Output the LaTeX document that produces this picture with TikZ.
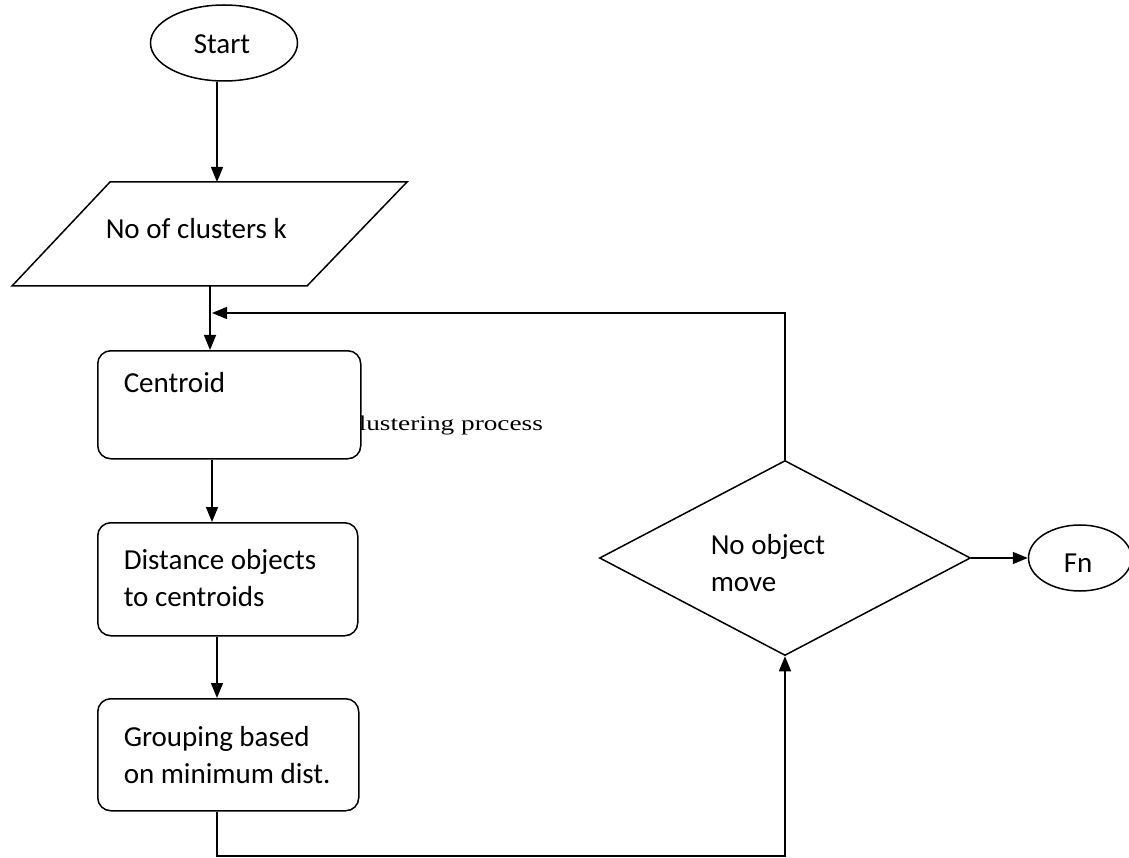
\documentclass[tikz,border=0pt]{standalone}
\usepackage{fontspec}
\setmainfont{Carlito}
\newfontfamily\serifx[FakeStretch=1.3]{Liberation Serif}
\usetikzlibrary{shapes.geometric,arrows.meta}
\begin{document}
\begin{tikzpicture}[x=1pt,y=-1pt,
  line width=1.5pt,
  lbl/.style={anchor=base west,inner sep=0,font=\fontsize{29}{37}\selectfont},
  procbox/.style={draw,fill=white,rounded corners=13pt,inner sep=0,anchor=north west},
  termin/.style={draw,ellipse,inner sep=0},
  arr/.style={-{Triangle[length=15pt,width=12pt]}}]
\useasboundingbox[fill=white] (0,0) rectangle (1129,858);
% side note partly hidden behind the box
\node[anchor=base west,inner sep=0,font=\serifx\fontsize{21}{25}\selectfont] (note) at (358,430) {lustering process};
% terminals
\node[termin,minimum width=147pt,minimum height=76pt] (start) at (224,43) {};
\node[lbl] (starttxt) at (193,54) {Start};
% input parallelogram
\coordinate (p1) at (110,182);
\coordinate (p2) at (407,182);
\coordinate (p3) at (307,286);
\coordinate (p4) at (12,286);
\draw (p1) -- (p2) -- (p3) -- (p4) -- cycle;
\node[lbl] (ktxt) at (105,239) {No of clusters k};
% process boxes
\node[procbox,minimum width=263pt,minimum height=108pt] (centroid) at (97,350) {};
\node[lbl] (centtxt) at (123,392) {Centroid};
\node[procbox,minimum width=260pt,minimum height=113pt] (dist) at (97,522) {};
\node[lbl,align=left] (disttxt) at (123,606) {Distance objects\\to centroids};
\node[procbox,minimum width=261pt,minimum height=112pt] (group) at (97,698) {};
\node[lbl,align=left] (grouptxt) at (123,783) {Grouping based\\on minimum dist.};
% decision
\node[draw,diamond,inner sep=0,minimum width=371pt,minimum height=195pt] (dec) at (785,558) {};
\node[lbl,align=left] (dectxt) at (710,591) {No object\\move};
% end
\node[termin,minimum width=103pt,minimum height=66pt] (fn) at (1080,558) {};
\node[lbl] (fntxt) at (1063,572) {Fn};
% helper coordinates
\coordinate (ptop) at (217,182);
\coordinate (pbot) at (210,286);
\coordinate (join) at (212,313);
\coordinate (colA) at (217,0);
\coordinate (colB) at (212,0);
\coordinate (bot) at (500,856);
% connectors
\draw[arr] (start.south -| ptop) -- (ptop);
\draw[arr] (pbot) -- (pbot |- centroid.north);
\draw[arr] (dec.north) |- (join);
\draw[arr] (centroid.south -| colB) -- (dist.north -| colB);
\draw[arr] (dist.south -| colA) -- (group.north -| colA);
\draw[arr] (group.south -| colA) |- (bot) -| (dec.south);
\draw[arr] (dec.east) -- (fn.west);
\end{tikzpicture}
\end{document}
